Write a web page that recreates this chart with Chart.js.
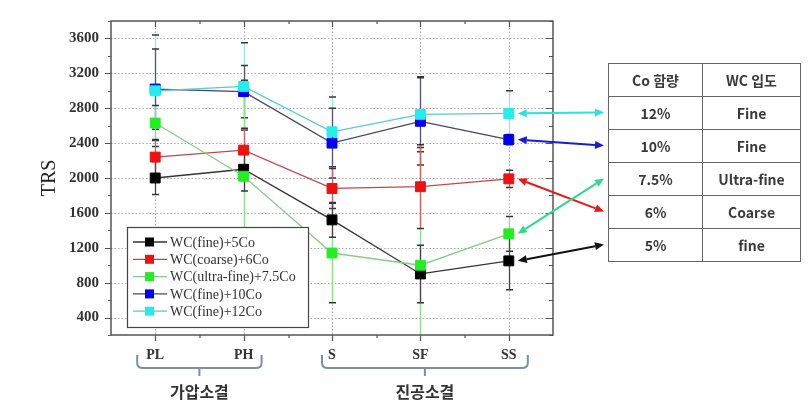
<!DOCTYPE html>
<html><head><meta charset="utf-8">
<script src="https://cdn.jsdelivr.net/npm/chart.js@4/dist/chart.umd.min.js"></script>
<style>
html,body{margin:0;padding:0;background:#fff;}
#wrap{position:relative;width:810px;height:405px;overflow:hidden;}
canvas{position:absolute;left:0;top:0;}
#tbl{position:absolute;left:608px;top:63px;width:192px;table-layout:fixed;border-collapse:collapse;font-family:"Noto Sans CJK KR","Noto Sans",sans-serif;font-size:14px;font-weight:bold;color:#3a3a3a;}
#tbl td{border:1px solid #666;height:33px;text-align:center;padding:0;box-sizing:border-box;}
</style></head>
<body><div id="wrap"><canvas id="c" width="810" height="405"></canvas>
<table id="tbl"></table></div>
<script>
// ---- data ----
const categories = ['PL', 'PH', 'S', 'SF', 'SS'];
const seriesNames = ['WC(fine)+5Co', 'WC(coarse)+6Co', 'WC(ultra-fine)+7.5Co', 'WC(fine)+10Co', 'WC(fine)+12Co'];
const trs5Co  = [2000, 2100, 1520, 900, 1050];
const trs6Co  = [2240, 2320, 1880, 1900, 1990];
const trs75Co = [2630, 2020, 1140, 1000, 1360];
const trs10Co = [3020, 2990, 2400, 2650, 2440];
const trs12Co = [3000, 3050, 2530, 2730, 2740];
const err5Co  = [190, 250, 200, 330, 330];
const err6Co  = [200, 250, 230, 480, 100];
const err75Co = [200, 1100, 570, 1350, 200];
const err10Co = [460, 300, 400, 500, 60];
const err12Co = [640, 500, 400, 430, 260];
const yTicks = [400, 800, 1200, 1600, 2000, 2400, 2800, 3200, 3600];
const groupLabels = ['가압소결', '진공소결'];
const groupRanges = [[0, 1], [2, 4]];
const tableHeader = ['Co 함량', 'WC 입도'];
const tableCo = ['12%', '10%', '7.5%', '6%', '5%'];
const tableWC = ['Fine', 'Fine', 'Ultra-fine', 'Coarse', 'fine'];
const tableRowOfSeries = [4, 3, 2, 1, 0];

// ---- styles ----
const markerColors = ['#000000', '#ee1111', '#22ee22', '#0000ee', '#22eeee'];
const lineColors = ['#333333', '#c04848', '#88cc88', '#444470', '#55cccc'];
const errColors = ['#444444', '#c86060', '#88dd88', '#555577', '#99e6e6'];
const arrowColors = ['#111111', '#e81818', '#30d890', '#1a1ad0', '#2ee0e0'];
const values = [trs5Co, trs6Co, trs75Co, trs10Co, trs12Co];
const errors = [err5Co, err6Co, err75Co, err10Co, err12Co];

// table
const tbl = document.getElementById('tbl');
let html = '<colgroup><col style="width:94px"><col style="width:98px"></colgroup>';
html += '<tr><td>' + tableHeader[0] + '</td><td>' + tableHeader[1] + '</td></tr>';
tableCo.forEach((c, i) => { html += '<tr><td>' + c + '</td><td>' + tableWC[i] + '</td></tr>'; });
tbl.innerHTML = html;

const datasets = values.map((v, i) => ({
  label: seriesNames[i],
  data: v,
  errors: errors[i],
  borderColor: lineColors[i],
  backgroundColor: markerColors[i],
  pointBackgroundColor: markerColors[i],
  pointBorderColor: markerColors[i],
  pointBorderWidth: 1,
  pointStyle: 'rect',
  pointRadius: 7,
  borderWidth: 1.3,
  tension: 0,
  order: 4 - i
}));

const serif = '"Liberation Serif","DejaVu Serif",serif';

const deco = {
  id: 'deco',
  beforeDatasetsDraw(chart) {
    const { ctx, chartArea: a, scales: { x, y } } = chart;
    ctx.save();
    ctx.strokeStyle = '#a8a8a8'; ctx.lineWidth = 1; ctx.setLineDash([1.5, 2]);
    yTicks.forEach(v => {
      const py = Math.round(y.getPixelForValue(v)) + 0.5;
      ctx.beginPath(); ctx.moveTo(a.left, py); ctx.lineTo(a.right, py); ctx.stroke();
    });
    categories.forEach((c, i) => {
      const px = Math.round(x.getPixelForValue(i)) + 0.5;
      ctx.beginPath(); ctx.moveTo(px, a.top); ctx.lineTo(px, a.bottom); ctx.stroke();
    });
    ctx.setLineDash([]);
    ctx.beginPath(); ctx.rect(a.left, a.top, a.width, a.height); ctx.clip();
    for (let d = chart.data.datasets.length - 1; d >= 0; d--) {
      const ds = chart.data.datasets[d];
      ds.data.forEach((v, i) => {
        const e = ds.errors[i];
        const px = Math.round(x.getPixelForValue(i)) + 0.5;
        const y1 = y.getPixelForValue(v + e), y2 = y.getPixelForValue(v - e);
        ctx.strokeStyle = errColors[d]; ctx.lineWidth = 1.3;
        ctx.beginPath(); ctx.moveTo(px, y1); ctx.lineTo(px, y2); ctx.stroke();
        ctx.strokeStyle = '#334'; ctx.lineWidth = 1.5;
        ctx.beginPath();
        ctx.moveTo(px - 3.5, y1); ctx.lineTo(px + 3.5, y1);
        ctx.moveTo(px - 3.5, y2); ctx.lineTo(px + 3.5, y2);
        ctx.stroke();
      });
    }
    ctx.restore();
  },
  afterDatasetsDraw(chart) {
    const { ctx, chartArea: a, scales: { x, y } } = chart;
    ctx.save();
    // frame
    ctx.strokeStyle = '#555'; ctx.lineWidth = 1.5;
    ctx.strokeRect(a.left, a.top, a.width, a.height);
    ctx.lineWidth = 1.2;
    ctx.beginPath();
    for (let v = 200; v <= 3800; v += 200) {
      const py = Math.round(y.getPixelForValue(v)) + 0.5;
      const len = v % 400 === 0 ? 6 : 3;
      ctx.moveTo(a.left - len, py); ctx.lineTo(a.left, py);
      ctx.moveTo(a.right, py); ctx.lineTo(a.right - len - 1, py);
    }
    const step = x.getPixelForValue(1) - x.getPixelForValue(0);
    for (let i = 0; i < categories.length; i++) {
      const px = Math.round(x.getPixelForValue(i)) + 0.5;
      ctx.moveTo(px, a.bottom); ctx.lineTo(px, a.bottom + 6);
      ctx.moveTo(px, a.top); ctx.lineTo(px, a.top + 6);
      if (i < categories.length - 1) {
        const pm = Math.round(px + step / 2);
        ctx.moveTo(pm, a.bottom); ctx.lineTo(pm, a.bottom + 3);
        ctx.moveTo(pm, a.top); ctx.lineTo(pm, a.top + 3);
      }
    }
    ctx.stroke();

    // legend
    const lx = 127, ly = 227, lw = 181, lh = 100;
    ctx.fillStyle = '#fff'; ctx.fillRect(lx, ly, lw, lh);
    ctx.strokeStyle = '#444'; ctx.lineWidth = 1.2; ctx.strokeRect(lx + 0.5, ly + 0.5, lw, lh);
    ctx.font = '14px ' + serif; ctx.textBaseline = 'middle'; ctx.textAlign = 'left';
    chart.data.datasets.forEach((ds, i) => {
      const yy = ly + 15 + i * 17.3;
      ctx.strokeStyle = lineColors[i]; ctx.lineWidth = 1.3;
      ctx.beginPath(); ctx.moveTo(lx + 6, yy); ctx.lineTo(lx + 40, yy); ctx.stroke();
      ctx.fillStyle = markerColors[i]; ctx.fillRect(lx + 18, yy - 4.5, 9, 9);
      ctx.fillStyle = '#333'; ctx.fillText(ds.label, lx + 43, yy + 1);
    });

    // arrows to table
    const tableLeft = 604, rowTop = 96, rowH = 33;
    chart.data.datasets.forEach((ds, i) => {
      const last = ds.data.length - 1;
      const x1 = x.getPixelForValue(last) + 9, y1 = y.getPixelForValue(ds.data[last]);
      const x2 = tableLeft, y2 = rowTop + rowH * tableRowOfSeries[i] + rowH / 2;
      drawArrow(ctx, x1, y1, x2, y2, arrowColors[i]);
    });

    // braces + group labels
    const margins = [[18, 18], [10, 19]];
    groupRanges.forEach((r, g) => {
      const x0 = x.getPixelForValue(r[0]) - margins[g][0];
      const x1 = x.getPixelForValue(r[1]) + margins[g][1];
      const xc = (x0 + x1) / 2;
      ctx.strokeStyle = '#7890aa'; ctx.lineWidth = 2;
      ctx.beginPath();
      ctx.moveTo(x0, 355); ctx.lineTo(x0, 363);
      ctx.quadraticCurveTo(x0, 368, x0 + 6, 368);
      ctx.lineTo(x1 - 6, 368);
      ctx.quadraticCurveTo(x1, 368, x1, 363);
      ctx.lineTo(x1, 355);
      ctx.moveTo(xc, 368); ctx.lineTo(xc, 376);
      ctx.stroke();
      ctx.fillStyle = '#333'; ctx.font = 'bold 16px "Noto Sans CJK KR", sans-serif';
      ctx.textAlign = 'center'; ctx.textBaseline = 'middle';
      ctx.fillText(groupLabels[g], xc, 392);
    });
    ctx.restore();
  }
};

function drawArrow(ctx, x1, y1, x2, y2, color) {
  const ang = Math.atan2(y2 - y1, x2 - x1);
  const hl = 9, hw = 4;
  ctx.strokeStyle = color; ctx.fillStyle = color; ctx.lineWidth = 2;
  ctx.beginPath();
  ctx.moveTo(x1 + Math.cos(ang) * hl, y1 + Math.sin(ang) * hl);
  ctx.lineTo(x2 - Math.cos(ang) * hl, y2 - Math.sin(ang) * hl);
  ctx.stroke();
  const head = (px, py, a) => {
    ctx.beginPath();
    ctx.moveTo(px, py);
    ctx.lineTo(px - Math.cos(a) * hl - Math.sin(a) * hw, py - Math.sin(a) * hl + Math.cos(a) * hw);
    ctx.lineTo(px - Math.cos(a) * hl + Math.sin(a) * hw, py - Math.sin(a) * hl - Math.cos(a) * hw);
    ctx.closePath(); ctx.fill();
  };
  head(x2, y2, ang);
  head(x1, y1, ang + Math.PI);
}

new Chart(document.getElementById('c'), {
  type: 'line',
  data: { labels: categories, datasets },
  options: {
    responsive: false,
    animation: false,
    devicePixelRatio: 1,
    layout: { padding: { left: 0, right: 257, top: 10, bottom: 0 } },
    plugins: { legend: { display: false }, tooltip: { enabled: false } },
    scales: {
      x: {
        type: 'category',
        offset: true,
        grid: { display: false, offset: false, drawTicks: false },
        border: { display: false },
        ticks: { color: '#333', padding: 12, font: { family: serif, size: 14, weight: 'bold' } },
        afterFit: s => { s.height = 70; }
      },
      y: {
        min: 200, max: 3800,
        grid: { display: false, drawTicks: false },
        border: { display: false },
        afterBuildTicks: s => { s.ticks = yTicks.map(v => ({ value: v })); },
        ticks: { color: '#333', padding: 12, callback: v => String(v), font: { family: serif, size: 15, weight: 'bold' } },
        title: { display: true, text: 'TRS', color: '#222', font: { family: serif, size: 20 }, padding: { top: 38 } },
        afterFit: s => { s.width = 111; }
      }
    }
  },
  plugins: [deco]
});
</script>
</body></html>
